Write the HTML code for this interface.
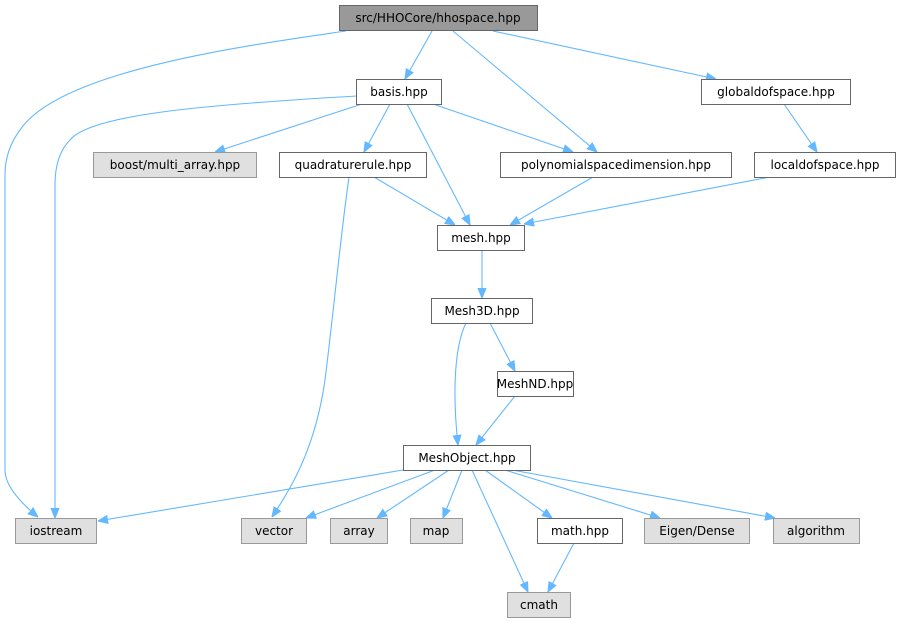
<!DOCTYPE html>
<html><head><meta charset="utf-8"><style>
html,body{margin:0;padding:0;background:#fff;}
svg{display:block;font-family:"DejaVu Sans","Liberation Sans",sans-serif;}
text{font-size:12px;text-anchor:middle;fill:#000;}
.w{fill:#fff;stroke:#666;stroke-width:1;}
.g{fill:#e0e0e0;stroke:#999;stroke-width:1;}
.r{fill:#999;stroke:#666;stroke-width:1;}
path{fill:none;stroke:#63b8ff;stroke-width:1.1;marker-end:url(#a);}
</style></head><body>
<svg width="901" height="623" viewBox="0 0 901 623" xmlns="http://www.w3.org/2000/svg">
<defs><marker id="a" viewBox="0 0 10 10" refX="10" refY="5" markerWidth="10" markerHeight="10" markerUnits="userSpaceOnUse" orient="auto"><path d="M0,1 L10,5 L0,9 Z" style="fill:#63b8ff;stroke:#63b8ff;marker-end:none"/></marker></defs>
<path d="M346,31 C250,45 60,70 20,130 Q5,150 5,175 L5,470 Q5,490 38,517"/>
<path d="M432,31 L405,79"/>
<path d="M453,31 L597,152"/>
<path d="M493,31 L716,79"/>
<path d="M357,96 C200,105 90,115 70,140 Q55,155 55,185 L55,518"/>
<path d="M362,104 L215,152"/>
<path d="M390,104 L364,152"/>
<path d="M407,104 L470,225"/>
<path d="M433,104 L573,152"/>
<path d="M784,104 L817,152"/>
<path d="M349,177 C340,240 335,300 325,380 C315,450 290,490 272,517"/>
<path d="M374,177 L455,225"/>
<path d="M593,177 L510,225"/>
<path d="M770,177 L524,224"/>
<path d="M482,250 L482,298"/>
<path d="M490,323 L515,371"/>
<path d="M466,323 C455,345 452,390 458,445"/>
<path d="M515,396 L476,445"/>
<path d="M403,470 L98,521"/>
<path d="M435,470 L306,518"/>
<path d="M449,470 L377,518"/>
<path d="M462,470 L443,518"/>
<path d="M472,470 L528,592"/>
<path d="M485,470 L552,518"/>
<path d="M505,470 L660,518"/>
<path d="M512,470 L775,518"/>
<path d="M574,543 L548,592"/>

<rect class="r" x="339.5" y="5.5" width="198" height="25"/><text x="438" y="22">src/HHOCore/hhospace.hpp</text>
<rect class="w" x="356.5" y="79.5" width="85" height="25"/><text x="399" y="96">basis.hpp</text>
<rect class="w" x="701.5" y="79.5" width="149" height="25"/><text x="776" y="96">globaldofspace.hpp</text>
<rect class="g" x="93.5" y="152.5" width="163" height="25"/><text x="175" y="169">boost/multi_array.hpp</text>
<rect class="w" x="279.5" y="152.5" width="147" height="25"/><text x="353" y="169">quadraturerule.hpp</text>
<rect class="w" x="500.5" y="152.5" width="231" height="25"/><text x="616" y="169">polynomialspacedimension.hpp</text>
<rect class="w" x="754.5" y="152.5" width="141" height="25"/><text x="825" y="169">localdofspace.hpp</text>
<rect class="w" x="437.5" y="225.5" width="87" height="25"/><text x="481" y="242">mesh.hpp</text>
<rect class="w" x="431.5" y="298.5" width="101" height="25"/><text x="482" y="315">Mesh3D.hpp</text>
<rect class="w" x="497.5" y="371.5" width="76" height="25"/><text x="535" y="388">MeshND.hpp</text>
<rect class="w" x="403.5" y="445.5" width="127" height="25"/><text x="467" y="462">MeshObject.hpp</text>
<rect class="g" x="15.5" y="518.5" width="81" height="25"/><text x="56" y="535">iostream</text>
<rect class="g" x="241.5" y="518.5" width="65" height="25"/><text x="274" y="535">vector</text>
<rect class="g" x="330.5" y="518.5" width="57" height="25"/><text x="359" y="535">array</text>
<rect class="g" x="410.5" y="518.5" width="52" height="25"/><text x="436" y="535">map</text>
<rect class="w" x="537.5" y="518.5" width="85" height="25"/><text x="580" y="535">math.hpp</text>
<rect class="g" x="644.5" y="518.5" width="105" height="25"/><text x="697" y="535">Eigen/Dense</text>
<rect class="g" x="773.5" y="518.5" width="86" height="25"/><text x="816" y="535">algorithm</text>
<rect class="g" x="507.5" y="592.5" width="63" height="25"/><text x="539" y="609">cmath</text>
</svg>
</body></html>
